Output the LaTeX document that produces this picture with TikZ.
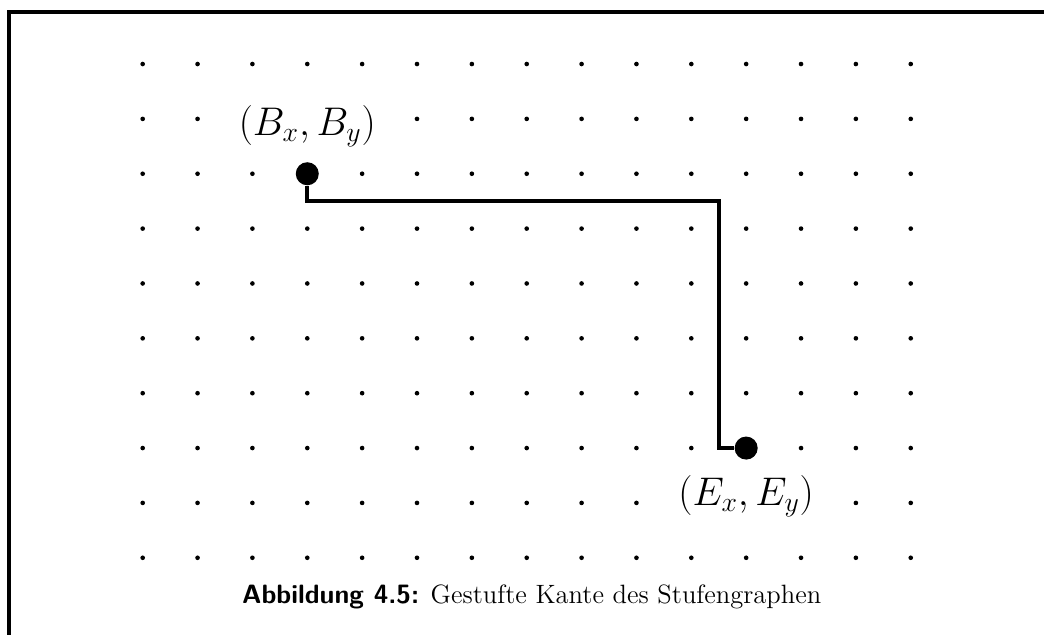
\documentclass[tikz,border=0pt]{standalone}
\usepackage{amsmath,amssymb}
\usetikzlibrary{positioning}

\begin{document}
\begin{tikzpicture}[
    gridpt/.style={fill=black},
    endpt/.style={circle, fill=black, inner sep=0pt, minimum size=0.42cm},
    edgeline/.style={line width=2pt},
    frameline/.style={line width=2pt},
    lbl/.style={fill=white, inner sep=2pt, font=\fontsize{19.4}{24}\selectfont},
    captxt/.style={font=\fontsize{13.75}{16}\selectfont, inner sep=0pt}
]
\useasboundingbox (-2.601,-10.390) rectangle (16.429,1.167);
\draw[frameline] (-2.437,-10.5) -- (-2.437,0.948) -- (16.6,0.948);

% Raster
\foreach \x in {0,...,14}
  \foreach \y in {0,...,9}
    \fill[gridpt] (\x,-\y) circle (1.2pt);

\node[endpt] (B) at (3,-2) {};
\node[endpt] (E) at (11,-7) {};
\coordinate (K) at (10.5,-2.5);

\draw[edgeline] (B) |- (K) |- (E);

\node[lbl, above=0.2cm of B] (Blbl) {$(B_x,B_y)$};
\node[lbl, below=0.2cm of E] (Elbl) {$(E_x,E_y)$};

\node[captxt, anchor=base] (caption) at (7.09,-9.825) {\textsf{\textbf{Abbildung 4.5:}} Gestufte Kante des Stufengraphen};
\end{tikzpicture}
\end{document}
